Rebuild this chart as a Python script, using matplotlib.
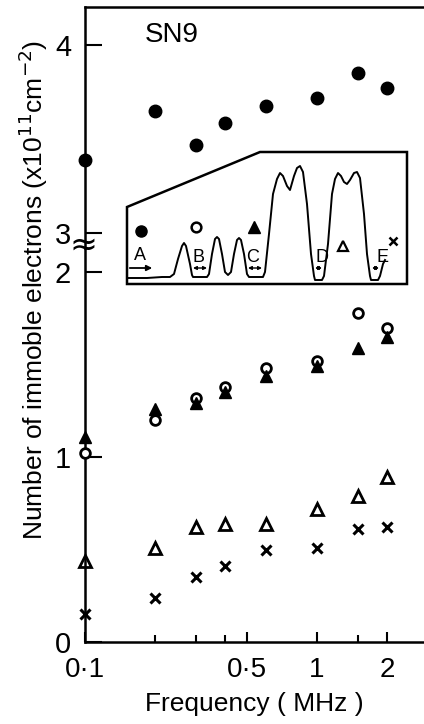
import numpy as np
import matplotlib
matplotlib.use('Agg')
from matplotlib import pyplot as plt
from matplotlib.ticker import FixedLocator, NullFormatter

plt.rcParams['font.family'] = ['Liberation Sans', 'DejaVu Sans']

# frequencies (MHz)
freq = [0.1, 0.2, 0.3, 0.4, 0.6, 1.0, 1.5, 2.0]
# immobile electrons (x10^11 cm^-2) for the regions A..E of the inset
nA = [3.39, 3.65, 3.47, 3.585, 3.675, 3.72, 3.85, 3.77]   # filled circles
nB = [1.02, 1.20, 1.32, 1.38, 1.48, 1.52, 1.78, 1.70]      # open circles
nC = [1.11, 1.26, 1.29, 1.35, 1.44, 1.49, 1.59, 1.65]      # filled triangles
nD = [0.44, 0.51, 0.62, 0.64, 0.64, 0.72, 0.79, 0.89]      # open triangles
nE = [0.15, 0.24, 0.35, 0.41, 0.50, 0.51, 0.61, 0.62]      # crosses

xticks = [0.1, 0.5, 1, 2]
xticklabels = ['0·1', '0·5', '1', '2']

# inset sketch (profile of the sample), in inset units
box_x = [0, 280, 280, 133, 0, 0]
box_y = [0, 0, 132, 132, 77, 0]
prof_x = [0, 20, 35, 43, 47, 51, 55, 57, 59, 63, 65, 66, 80, 82, 85, 88, 90, 92, 95, 98,
          101, 104, 107, 110, 112, 114, 117, 120, 122, 136, 138, 142, 146, 150, 153, 156,
          160, 163, 167, 170, 173, 176, 180, 184, 187, 188, 195, 197, 201, 205, 208, 211,
          214, 217, 220, 223, 227, 230, 233, 237, 240, 243, 244, 251, 253, 256, 258]
prof_y = [6, 6, 7, 7, 10, 25, 38, 41, 38, 20, 9, 7, 7, 10, 30, 45, 47, 45, 30, 12,
          9, 12, 30, 44, 46, 44, 30, 10, 7, 7, 12, 50, 90, 105, 111, 108,
          98, 94, 108, 116, 118, 112, 80, 30, 8, 4, 4, 8, 40, 90, 105, 111,
          108, 102, 100, 104, 111, 112, 106, 70, 30, 8, 4, 4, 8, 20, 24]

W, H = 424, 724
fig = plt.figure(figsize=(W / 100, H / 100), dpi=100)

ax_lo = fig.add_axes([85 / W, 1 - 642 / H, 1 - 85 / W, (642 - 248) / H])
ax_hi = fig.add_axes([85 / W, 1 - 248 / H, 1 - 85 / W, (248 - 7) / H], sharex=ax_lo)

mk = dict(linestyle='none', clip_on=False, zorder=5)
ax_hi.plot(freq, nA, marker='o', ms=9, color='black', **mk)
ax_lo.plot(freq, nB, marker='o', ms=7, mfc='white', mec='black', mew=2, **mk)
ax_lo.plot(freq, nC, marker='^', ms=9, color='black', **mk)
ax_lo.plot(freq, nD, marker='^', ms=8, mfc='none', mec='black', mew=2, **mk)
ax_lo.plot(freq, nE, marker='x', ms=7, color='black', mew=2.2, **mk)

ax_lo.set_xscale('log')
ax_lo.set_xlim(0.1, 2.89)
ax_lo.set_ylim(0, 2.13)
ax_hi.set_ylim(2.92, 4.202)

for ax in (ax_lo, ax_hi):
    ax.spines['right'].set_visible(False)
    for s in ax.spines.values():
        s.set_linewidth(1.8)
    ax.tick_params(axis='y', direction='in', length=12, width=1.5, labelsize=21, pad=10)
    ax.patch.set_alpha(0)
ax_lo.spines['top'].set_visible(False)
ax_hi.spines['bottom'].set_visible(False)

ax_hi.set_yticks([3, 4])
ax_hi.set_yticklabels(['3', '4'])
ax_hi.tick_params(axis='x', which='both', bottom=False, labelbottom=False)
ax_lo.set_yticks([0, 1, 2])
ax_lo.set_yticklabels(['0', '1', '2'])

ax_lo.xaxis.set_major_locator(FixedLocator(xticks))
ax_lo.set_xticklabels(xticklabels)
ax_lo.xaxis.set_minor_locator(FixedLocator([0.2, 0.3, 0.4, 1.5]))
ax_lo.xaxis.set_minor_formatter(NullFormatter())
ax_lo.tick_params(axis='x', which='major', direction='in', length=7, width=1.5,
                  labelsize=20, pad=11)
ax_lo.tick_params(axis='x', which='minor', direction='in', length=5, width=1.5)
ax_lo.set_xlabel('Frequency ( MHz )', fontsize=19, labelpad=6)

fig.text(33 / W, 1 - 290 / H, 'Number of immoble electrons (x10$^{11}$cm$^{-2}$)',
         rotation=90, ha='center', va='center', fontsize=19)
fig.text(172 / W, 1 - 35 / H, 'SN9', ha='center', va='center', fontsize=20)
# axis break mark
fig.text(83 / W, 1 - 245 / H, '≈', ha='center', va='center', fontsize=24,
         family='DejaVu Sans')

# inset
ins = fig.add_axes([127 / W, 1 - 284 / H, 280 / W, 132 / H])
ins.set_xlim(0, 280)
ins.set_ylim(0, 132)
ins.axis('off')
ins.fill(box_x, box_y, facecolor='white', edgecolor='black', lw=1.8, clip_on=False)
ins.plot(prof_x, prof_y, color='black', lw=1.4)
ins.plot([14], [53], marker='o', ms=8, color='black')
ins.plot([69], [57], marker='o', ms=7, mfc='white', mec='black', mew=1.8)
ins.plot([127], [57], marker='^', ms=9, color='black')
ins.plot([216], [38], marker='^', ms=7, mfc='none', mec='black', mew=1.6)
ins.plot([266], [43], marker='x', ms=6, color='black', mew=1.8)
for lab, lx, ly in [('A', 13, 29), ('B', 72, 27), ('C', 126, 27), ('D', 195, 26), ('E', 255, 26)]:
    ins.text(lx, ly, lab, ha='center', va='center', fontsize=13)
ins.annotate('', xy=(28, 16), xytext=(0, 16),
             arrowprops=dict(arrowstyle='-|>', color='black', lw=1.3, mutation_scale=8))
for x0, x1 in [(66, 80), (121, 135), (188, 195), (245, 252)]:
    ins.annotate('', xy=(x1, 16), xytext=(x0, 16),
                 arrowprops=dict(arrowstyle='<|-|>', color='black', lw=1, mutation_scale=5,
                                 shrinkA=0, shrinkB=0))

fig.savefig('out.png', dpi=100)
